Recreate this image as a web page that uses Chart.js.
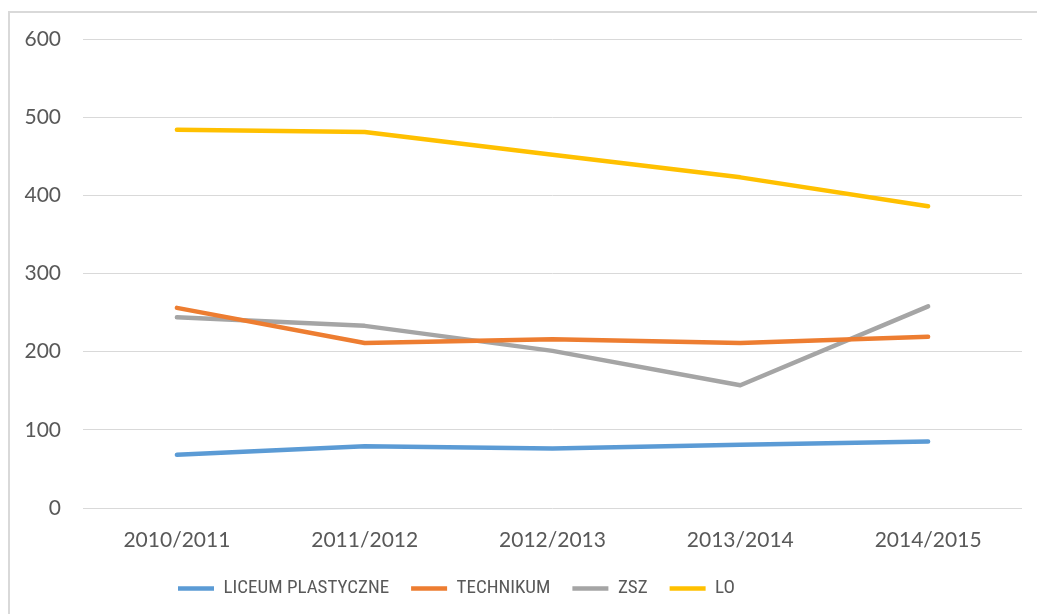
<!DOCTYPE html>
<html>
<head>
<meta charset="utf-8">
<script src="https://cdn.jsdelivr.net/npm/chart.js@4/dist/chart.umd.min.js"></script>
<style>
  html, body { margin: 0; padding: 0; background: #ffffff; }
  #wrap { position: relative; width: 1037px; height: 614px; overflow: hidden; }
  #frame {
    position: absolute; left: 8px; top: 11px; width: 1040px; height: 620px;
    border-left: 2px solid #d9d9d9; border-top: 2px solid #d9d9d9;
    pointer-events: none;
  }
  canvas { position: absolute; left: 0; top: 0; }
</style>
</head>
<body>
<div id="wrap">
  <canvas id="trendChart" width="1037" height="614"></canvas>
  <div id="frame"></div>
</div>
<script>
// lata szkolne
const years = ['2010/2011', '2011/2012', '2012/2013', '2013/2014', '2014/2015'];

// liczby uczniów
const liceumPlastyczne = [68, 79, 76, 81, 85];
const technikum = [256, 211, 216, 211, 219];
const zsz = [244, 233, 201, 157, 258];
const lo = [484, 481, 452, 423, 386];

const yTicks = [0, 100, 200, 300, 400, 500, 600];

const textColor = '#595959';
const gridColor = '#d9d9d9';

function makeDataset(label, data, color) {
    return {
        label: label,
        data: data,
        borderColor: color,
        backgroundColor: color,
        borderWidth: 4.5,
        borderCapStyle: 'round',
        borderJoinStyle: 'round',
        pointRadius: 0,
        pointHoverRadius: 0,
        tension: 0,
        fill: false
    };
}

// przesunięcie legendy w lewo, tak jak w oryginale
const legendShift = {
    id: 'legendShift',
    afterLayout(chart) {
        const lg = chart.legend;
        if (lg) {
            const w = lg.right - lg.left;
            lg.left = 156;
            lg.right = lg.left + w;
        }
    }
};

const ctx = document.getElementById('trendChart').getContext('2d');
new Chart(ctx, {
    type: 'line',
    data: {
        labels: years,
        datasets: [
            makeDataset('LICEUM PLASTYCZNE', liceumPlastyczne, '#5b9bd5'),
            makeDataset('TECHNIKUM', technikum, '#ed7d31'),
            makeDataset('ZSZ', zsz, '#a5a5a5'),
            makeDataset('LO', lo, '#ffc000')
        ]
    },
    options: {
        responsive: false,
        animation: false,
        layout: { padding: { top: 39, right: 15, bottom: 6, left: 0 } },
        scales: {
            x: {
                offset: true,
                grid: { display: false, drawTicks: false },
                border: { display: false },
                ticks: {
                    color: textColor,
                    font: { family: 'Lato, "Open Sans", sans-serif', size: 21 },
                    padding: 20,
                    maxRotation: 0
                },
                afterFit(scale) { scale.height = 49; }
            },
            y: {
                min: 0,
                max: 600,
                afterBuildTicks(scale) {
                    scale.ticks = yTicks.map(v => ({ value: v }));
                },
                grid: { color: gridColor, lineWidth: 1, drawTicks: false },
                border: { display: false },
                ticks: {
                    color: textColor,
                    font: { family: 'Lato, "Open Sans", sans-serif', size: 21 },
                    padding: 22
                },
                afterFit(scale) { scale.width = 83; }
            }
        },
        plugins: {
            legend: {
                position: 'bottom',
                align: 'start',
                labels: {
                    usePointStyle: true,
                    pointStyle: 'line',
                    pointStyleWidth: 36,
                    boxHeight: 18,
                    padding: 22,
                    color: textColor,
                    font: { family: '"Liberation Sans Narrow", "Roboto Condensed", Lato, sans-serif', size: 19 }
                }
            },
            tooltip: { enabled: false }
        }
    },
    plugins: [legendShift]
});
</script>
</body>
</html>
